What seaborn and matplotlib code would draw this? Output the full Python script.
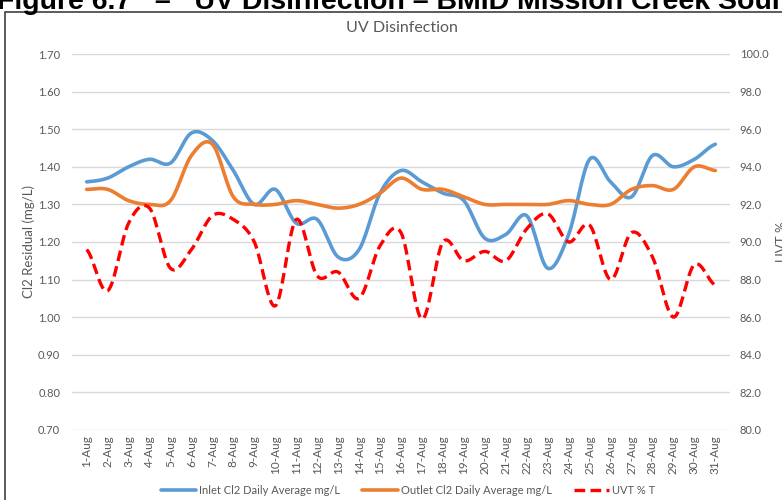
import numpy as np
import pandas as pd
import seaborn as sns
from matplotlib import pyplot as plt
from matplotlib.patches import Rectangle

days = [f"{d}-Aug" for d in range(1, 32)]

inlet = [1.36, 1.37, 1.40, 1.42, 1.41, 1.49, 1.47, 1.39, 1.30, 1.34,
         1.25, 1.26, 1.16, 1.18, 1.33, 1.39, 1.36, 1.33, 1.31, 1.21,
         1.22, 1.27, 1.13, 1.22, 1.42, 1.36, 1.32, 1.43, 1.40, 1.42, 1.46]

outlet = [1.34, 1.34, 1.31, 1.30, 1.31, 1.43, 1.46, 1.32, 1.30, 1.30,
          1.31, 1.30, 1.29, 1.30, 1.33, 1.37, 1.34, 1.34, 1.32, 1.30,
          1.30, 1.30, 1.30, 1.31, 1.30, 1.30, 1.34, 1.35, 1.34, 1.40, 1.39]

uvt = [89.6, 87.4, 91.0, 91.8, 88.6, 89.6, 91.4, 91.2, 90.0, 86.6,
       91.2, 88.2, 88.4, 87.0, 89.8, 90.5, 85.9, 90.0, 89.0, 89.5,
       89.0, 90.7, 91.5, 90.0, 90.9, 88.0, 90.5, 89.2, 86.0, 88.8, 87.7]

left_ticks = [0.70, 0.80, 0.90, 1.00, 1.10, 1.20, 1.30, 1.40, 1.50, 1.60, 1.70]
right_ticks = [80, 82, 84, 86, 88, 90, 92, 94, 96, 98, 100]

BLUE = "#5b9bd5"
ORANGE = "#ed7d31"
RED = "#ff0000"
GREY = "#595959"


def smooth(y, n=16):
    # Catmull-Rom curve through the points, like Excel's smoothed line
    y = np.asarray(y, dtype=float)
    p = np.concatenate([[y[0]], y, [y[-1]]])
    xs, ys = [], []
    for i in range(len(y) - 1):
        p0, p1, p2, p3 = p[i], p[i + 1], p[i + 2], p[i + 3]
        t = np.linspace(0, 1, n, endpoint=False)
        v = 0.5 * (2 * p1 + (-p0 + p2) * t + (2 * p0 - 5 * p1 + 4 * p2 - p3) * t ** 2
                   + (-p0 + 3 * p1 - 3 * p2 + p3) * t ** 3)
        xs.extend(i + t)
        ys.extend(v)
    xs.append(len(y) - 1)
    ys.append(y[-1])
    return pd.DataFrame({"x": xs, "y": ys})


sns.set_style("white")
plt.rcParams["font.family"] = ["Lato", "DejaVu Sans"]

fig = plt.figure(figsize=(7.82, 5.0), dpi=100)
ax = fig.add_axes([72 / 782, 1 - 430 / 500, 658 / 782, 376 / 500])
ax2 = ax.twinx()

# outer chart frame and the caption above it, clipped by the page edge
fig.patches.append(Rectangle((5 / 782, -0.1), 1.2, 1 - 12 / 500 + 0.1,
                             transform=fig.transFigure, fill=False,
                             edgecolor="#404040", linewidth=1.2))
fig.text(-3 / 782, 1 - 9 / 500,
         "Figure 6.7   \u2013   UV Disinfection \u2013 BMID Mission Creek Source",
         fontsize=20.5, fontweight="bold", family="Liberation Sans", color="black",
         ha="left", va="baseline")

sns.lineplot(data=smooth(inlet), x="x", y="y", ax=ax, color=BLUE, linewidth=2.6,
             label="Inlet Cl2 Daily Average mg/L", legend=False)
sns.lineplot(data=smooth(outlet), x="x", y="y", ax=ax, color=ORANGE, linewidth=2.6,
             label="Outlet Cl2 Daily Average mg/L", legend=False)
sns.lineplot(data=smooth(uvt), x="x", y="y", ax=ax2, color=RED, linewidth=2.4,
             label="UVT % T", legend=False)
ax2.lines[0].set_dashes([3.2, 1.6])

ax.set_ylim(0.70, 1.70)
ax2.set_ylim(80, 100)
ax.set_xlim(-0.7, 30.7)
ax.set_yticks(left_ticks)
ax.set_yticklabels([f"{v:.2f}" for v in left_ticks])
ax2.set_yticks(right_ticks)
ax2.set_yticklabels([f"{v:.1f}" for v in right_ticks])
ax.set_xticks(range(len(days)))
ax.set_xticklabels(days, rotation=90)

ax.grid(axis="y", color="#d9d9d9", linewidth=1)
ax.set_axisbelow(True)
for a in (ax, ax2):
    for s in a.spines.values():
        s.set_visible(False)
    a.tick_params(length=0, colors=GREY, labelsize=8)
ax.tick_params(axis="y", pad=8.5)
ax2.tick_params(axis="y", pad=7)
ax.tick_params(axis="x", pad=4, labelsize=8.5)

ax.set_xlabel("")
ax.set_ylabel("Cl2 Residual (mg/L)", color=GREY, fontsize=9.5)
ax.yaxis.set_label_coords((35 - 72) / 658, 0.5)
ax2.set_ylabel("UVT %", color=GREY, fontsize=9.5, rotation=90)
ax2.yaxis.set_label_coords((776 - 72) / 658, 0.5)

fig.text(402 / 782, 1 - 28 / 500, "UV Disinfection", ha="center", va="center",
         fontsize=11.5, color=GREY)

handles = ax.get_lines() + ax2.get_lines()
fig.legend(handles, [h.get_label() for h in handles], loc="center",
           bbox_to_anchor=(408 / 782, 1 - 490 / 500), ncol=3, frameon=False,
           fontsize=8, labelcolor=GREY, handlelength=3.2, handletextpad=0.25,
           columnspacing=2.0)

fig.savefig("out.png", dpi=100)
